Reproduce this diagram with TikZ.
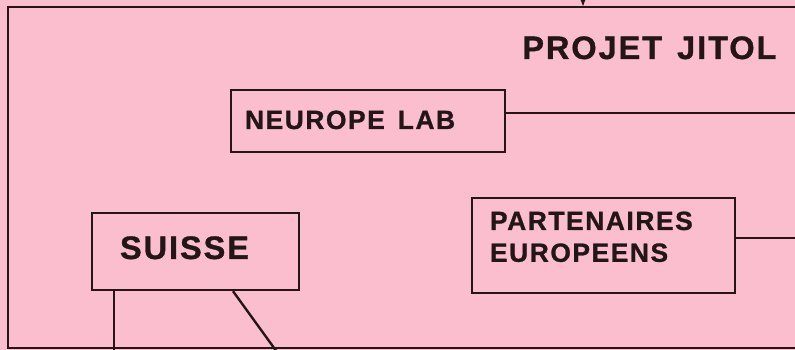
\documentclass[tikz,border=0pt]{standalone}
\usepackage{fontspec}
\setmainfont{Liberation Sans}[LetterSpace=6,BoldFeatures={FakeBold=1}]
\usetikzlibrary{positioning,arrows.meta}
\definecolor{rose}{RGB}{250,190,206}
\definecolor{ink}{RGB}{34,22,24}

\begin{document}
\begin{tikzpicture}[x=0.02cm,y=-0.02cm,
    box/.style={draw=ink,line width=1.35pt,inner ysep=0pt,align=left,text=ink},
    link/.style={draw=ink,line width=1.35pt},
    midfont/.style={font=\bfseries\fontsize{15}{18.1}\selectfont},
    bigfont/.style={font=\bfseries\fontsize{18.5}{21}\selectfont}]
    \fill[rose] (0,0) rectangle (795,350);
    \useasboundingbox (0,0) rectangle (795,350);

    \draw[ink,line width=1.6pt] (810,7) -- (8,7) -- (8,348) -- (810,348);
    \coordinate (feed) at (583,-20);
    \draw[link,-{Latex[length=6pt,width=5pt]}] (feed) -- (583,7);

    \node[bigfont,text=ink,anchor=base west,inner sep=0pt] (title) at (522,59) {PROJET\hspace{0.3cm}JITOL};

    \node[box,midfont,inner xsep=0.28cm,text width=4.92cm,text height=0.78cm,text depth=0.46cm] (neurope) at (368,121) {NEUROPE\hspace{0.26cm}LAB};
    \node[box,midfont,inner xsep=0.36cm,text width=4.54cm,text height=0.64cm,text depth=1.26cm] (partners) at (603.5,245.5) {PARTENAIRES\\EUROPEENS};
    \node[box,bigfont,inner xsep=0.56cm,text width=3.02cm,text height=0.92cm,text depth=0.62cm] (suisse) at (195.5,251.5) {SUISSE};

    \coordinate (labend) at (800,113);
    \coordinate (partend) at (800,238);
    \coordinate (suissedown) at (114,352);
    \coordinate (suissediag) at (277,352);
    \draw[link] (neurope.east |- labend) -- (labend);
    \draw[link] (partners.east |- partend) -- (partend);
    \draw[link] (suisse.south -| suissedown) -- (suissedown);
    \draw[link] ([xshift=0.75cm]suisse.south) -- (suissediag);
\end{tikzpicture}
\end{document}
